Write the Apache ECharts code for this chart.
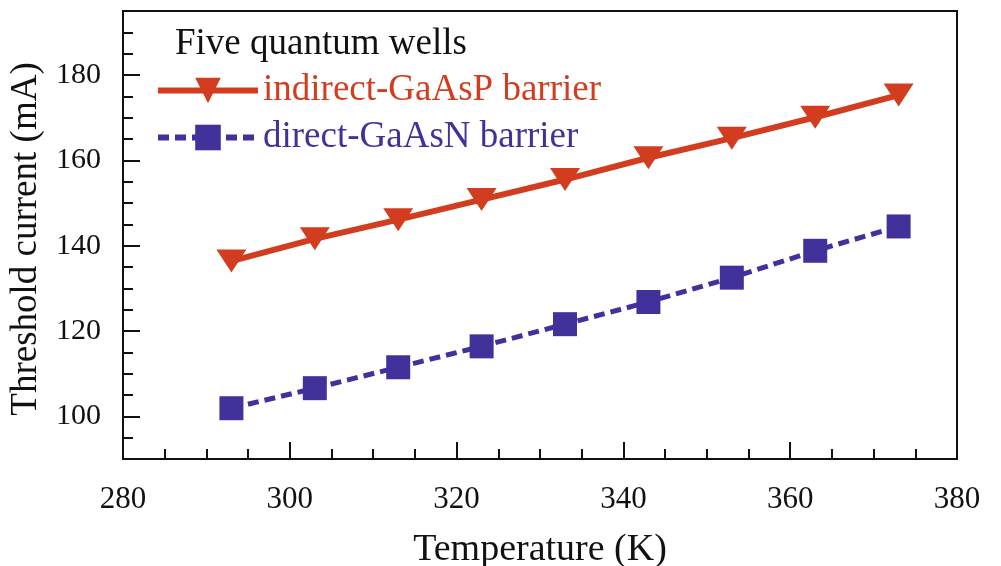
<!DOCTYPE html>
<html lang="en">
<head>
    <meta charset="UTF-8">
    <script src="https://cdn.jsdelivr.net/npm/echarts@6/dist/echarts.min.js"></script>
</head>
<body style="margin:0">
<div id="chart" style="width: 1001px;height: 566px"></div>
<script>
    var temps = [293, 303, 313, 323, 333, 343, 353, 363, 373];
    var indirectGaAsP = [136.4, 141.6, 146.1, 150.8, 155.5, 160.6, 165.2, 170.1, 175.3];
    var directGaAsN = [101.9, 106.6, 111.5, 116.4, 121.6, 126.8, 132.5, 138.8, 144.5];
    var yLabels = [100, 120, 140, 160, 180];

    var red = '#d23c1f', blue = '#41329b';
    var font = 'Liberation Serif';

    function pairs(xs, ys) {
        return xs.map(function (x, i) { return [x, ys[i]]; });
    }

    var mychart = echarts.init(document.getElementById('chart'));
    var option = {
        backgroundColor: '#fff',
        animation: false,
        title: {
            text: 'Five quantum wells',
            left: 175,
            top: 26,
            padding: 0,
            textStyle: {fontFamily: font, fontSize: 37, fontWeight: 'normal', color: '#111'}
        },
        legend: {
            orient: 'vertical',
            left: 155,
            top: 72,
            padding: 0,
            itemWidth: 100,
            itemHeight: 32,
            itemGap: 10,
            lineStyle: {width: 6},
            textStyle: {fontFamily: font, fontSize: 37},
            data: [
                {name: 'indirect-GaAsP barrier', textStyle: {color: red}},
                {name: 'direct-GaAsN barrier', textStyle: {color: blue}}
            ]
        },
        grid: {
            left: 123, top: 11, right: 44, bottom: 107,
            outerBoundsMode: 'none',
            show: true, borderColor: '#111', borderWidth: 2
        },
        xAxis: {
            type: 'value',
            min: 280, max: 380, interval: 20,
            name: 'Temperature (K)',
            nameLocation: 'middle',
            nameGap: 72,
            nameTextStyle: {fontFamily: font, fontSize: 38, color: '#111'},
            axisLine: {lineStyle: {color: '#111', width: 2}},
            axisTick: {inside: true, length: 17, lineStyle: {color: '#111', width: 2}},
            minorTick: {show: true, splitNumber: 4, length: 10, lineStyle: {color: '#111', width: 2}},
            axisLabel: {fontFamily: font, fontSize: 31, color: '#111', margin: 25},
            splitLine: {show: false}
        },
        yAxis: [{
            type: 'value',
            min: 90, max: 195, interval: 5,
            axisLine: {lineStyle: {color: '#111', width: 2}},
            axisTick: {inside: true, length: 10, lineStyle: {color: '#111', width: 2}},
            axisLabel: {show: false},
            splitLine: {show: false}
        }, {
            type: 'value',
            min: 90, max: 195, splitNumber: 5,
            position: 'left',
            name: 'Threshold current (mA)',
            nameLocation: 'middle',
            nameGap: 75,
            nameTextStyle: {fontFamily: font, fontSize: 37, color: '#111', padding: [0, 8, 0, 0]},
            axisLine: {show: false},
            axisTick: {inside: true, length: 17, lineStyle: {color: '#111', width: 2}},
            axisLabel: {
                fontFamily: font, fontSize: 30, color: '#111', margin: 22,
                formatter: function (v) { return yLabels.indexOf(v) >= 0 ? String(v) : ''; }
            },
            splitLine: {show: false}
        }],
        series: [{
            name: 'indirect-GaAsP barrier',
            type: 'line',
            yAxisIndex: 0,
            data: pairs(temps, indirectGaAsP),
            symbol: 'triangle',
            symbolRotate: 180,
            symbolSize: [30, 23],
            lineStyle: {color: red, width: 6},
            itemStyle: {color: red}
        }, {
            name: 'direct-GaAsN barrier',
            type: 'line',
            yAxisIndex: 0,
            data: pairs(temps, directGaAsN),
            symbol: 'rect',
            symbolSize: 24,
            lineStyle: {color: blue, width: 5, type: [11, 6]},
            itemStyle: {color: blue}
        }]
    };
    mychart.setOption(option);
</script>
</body>
</html>
